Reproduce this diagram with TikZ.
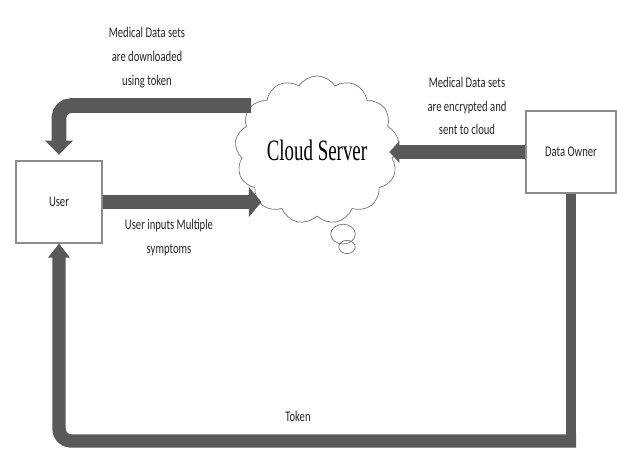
\documentclass[tikz,border=0pt]{standalone}
\usepackage{fontspec}
\setmainfont{Liberation Serif}
\newfontfamily\lblfont[FakeStretch=0.72]{Carlito}
\newfontfamily\cloudfont[FakeStretch=0.64]{Liberation Serif}
\usepackage{tikz}
\usetikzlibrary{shapes.symbols,shapes.callouts,arrows.meta,positioning,calc}
\tikzset{
  actor/.style={rectangle, draw=black!45, line width=0.8pt, fill=white, align=center,
                minimum width=2.15cm, minimum height=2.05cm, inner sep=2pt,
                text=black!85, font=\lblfont\fontsize{10.5}{12}\selectfont},
  lbl/.style={align=center, inner sep=1pt, text=black!85,
              font=\lblfont\fontsize{10.5}{17}\selectfont},
  bar/.style={draw=black!65, line width=10.5pt},
  flowar/.style={draw=black!65, line width=10.5pt,
                 -{Triangle[length=10pt,width=19pt]}}
}

\begin{document}
\begin{tikzpicture}[x=0.025cm, y=-0.025cm]
\useasboundingbox (0,0) rectangle (617,452);
% boxes and server
\node[actor] (user) at (59,202) {User};
\node[actor, minimum width=2.25cm] (own) at (571,152) {Data Owner};
\node[cloud callout, cloud puffs=13, cloud puff arc=115, cloud ignores aspect,
      draw=black!55, line width=0.5pt, fill=white, minimum width=4.1cm, minimum height=3.7cm,
      callout absolute pointer={(347,247)},
      font=\cloudfont\fontsize{21}{24}\selectfont] (cloud) at (317,150) {Cloud Server};
% flows
\draw[flowar, rounded corners=0.3cm, shorten >=4pt] (cloud.146) -| (user.north);
\draw[flowar, -{Triangle[length=9pt,width=21pt]}] (user.east) -- ([xshift=5pt]user.east -| cloud.213);
\draw[flowar, -{Triangle[length=7pt,width=15pt]}] (own.west) -- ([xshift=-6pt]own.west -| cloud.east);
\coordinate (bot) at (0,441);
\draw[bar, line width=7.5pt] (own.south) -- (own.south |- bot);
\draw[flowar, line width=9.5pt, rounded corners=0.3cm, -{Triangle[length=10pt,width=15pt]}]
  ([xshift=3.7pt]own.south |- bot) -| (user.south);
% labels
\node[lbl] (dl) at (147,58) {Medical Data sets\\are downloaded\\using token};
\node[lbl] (enc) at (467,106) {Medical Data sets\\are encrypted and\\sent to cloud};
\node[lbl] (sym) at (169,238) {User inputs Multiple\\symptoms};
\node[lbl] (tok) at (298,416) {Token};
\end{tikzpicture}
\end{document}
